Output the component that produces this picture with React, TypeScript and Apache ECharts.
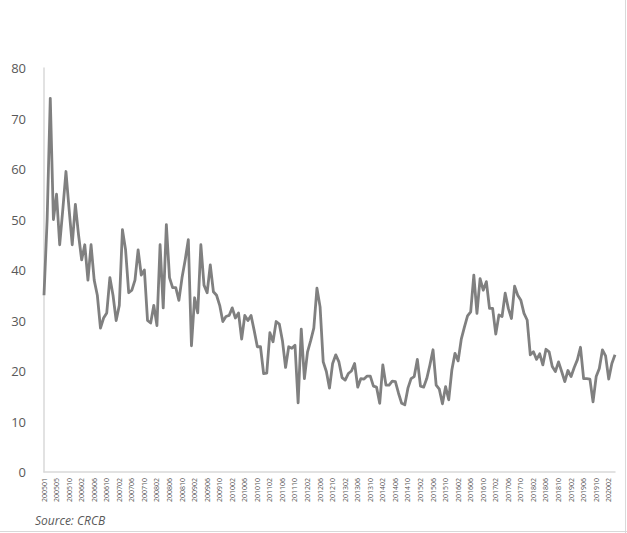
import React, { useEffect, useRef } from "react";
import * as echarts from "echarts";

// Monthly categories 200501..202004 (200508 absent in the source series)
const startYear = 2005;
const endYear = 2020;
const endMonth = 4;
const missingMonths = ["200508"];
const categories: string[] = [];
for (let y = startYear; y <= endYear; y++) {
  for (let m = 1; m <= 12; m++) {
    if (y === endYear && m > endMonth) break;
    const c = `${y}${m < 10 ? "0" + m : m}`;
    if (!missingMonths.includes(c)) categories.push(c);
  }
}

const values2005to2009: number[] = [
  35, 50, 74, 50, 55, 45, 52, 59.5, 52, 45, 53, 47, 42, 45, 38, 45, 38, 35, 28.5, 30.5,
  31.5, 38.5, 35, 30, 33, 48, 44, 35.5, 36, 38, 44, 39, 40, 30, 29.5, 33, 29, 45, 32.5, 49,
  38.5, 36.5, 36.5, 34, 38.5, 42, 46, 25, 34.5, 31.5, 45, 37, 35.5, 41, 35.7, 35, 33, 29.8, 30.8, 31,
];
const values2010to2014: number[] = [
  32.5, 30.5, 31.5, 26.3, 31, 30, 31, 28, 24.8, 24.8, 19.5, 19.6, 27.6, 25.8, 29.8, 29.3, 26, 20.7, 24.8, 24.5,
  25.1, 13.7, 28.3, 18.5, 23.8, 26, 28.5, 36.4, 32.7, 21.8, 19.9, 16.6, 21.5, 23.2, 21.8, 18.7, 18.2, 19.5, 20, 21.5,
  16.8, 18.5, 18.4, 19, 19, 17, 16.8, 13.6, 21.2, 17.2, 17.2, 18, 17.9, 15.6, 13.6, 13.3, 16.6, 18.5, 18.9, 22.3,
];
const values2015to2020: number[] = [
  17, 16.8, 18.5, 21.2, 24.2, 17.2, 16.4, 13.5, 16.9, 14.3, 20.2, 23.5, 22, 26.3, 28.7, 30.9, 31.7, 39, 31.4, 38.3,
  36, 37.7, 32.4, 32.4, 27.3, 31.1, 30.8, 35.4, 32.4, 30.4, 36.8, 35, 34, 31.4, 30.1, 23.2, 23.8, 22.3, 23.4, 21.2,
  24.3, 23.8, 20.9, 19.9, 21.8, 19.9, 17.9, 20.1, 18.9, 20.7, 22.2, 24.7, 18.5, 18.5, 18.4, 13.9, 18.9, 20.5, 24.2, 23,
  18.4, 21.5, 23.2,
];
const seriesValues: number[] = [...values2005to2009, ...values2010to2014, ...values2015to2020];

const yTicks = { min: 0, max: 80, interval: 10 };
const sourceText = "Source: CRCB";

export default function App() {
  const ref = useRef<HTMLDivElement>(null);
  useEffect(() => {
    document.body.style.margin = "0";
    if (!ref.current) return;
    const chart = echarts.init(ref.current, null, { renderer: "svg" });
    chart.setOption({
      animation: false,
      backgroundColor: "#ffffff",
      grid: { left: 44, right: 12, top: 68, bottom: 61, containLabel: false },
      xAxis: {
        type: "category",
        data: categories,
        boundaryGap: false,
        axisLine: { show: true, lineStyle: { color: "#D9D9D9", width: 1.5 } },
        axisTick: { show: false },
        axisLabel: {
          interval: 3,
          rotate: 90,
          fontSize: 7,
          color: "#595959",
          fontFamily: "Open Sans",
          margin: 6,
        },
        splitLine: { show: false },
      },
      yAxis: {
        type: "value",
        min: yTicks.min,
        max: yTicks.max,
        interval: yTicks.interval,
        axisLine: { show: true, lineStyle: { color: "#D9D9D9", width: 1.5 } },
        axisTick: { show: false },
        axisLabel: { fontSize: 13, color: "#595959", fontFamily: "Open Sans", margin: 18 },
        splitLine: { show: false },
      },
      series: [
        {
          type: "line",
          data: seriesValues,
          showSymbol: false,
          symbol: "none",
          lineStyle: { color: "#808080", width: 2.8, join: "round" },
        },
      ],
      graphic: [
        {
          type: "text",
          left: 35,
          top: 514,
          style: {
            text: sourceText,
            fontSize: 12,
            fontStyle: "italic",
            fill: "#595959",
            fontFamily: "Open Sans",
          },
        },
        {
          type: "line",
          shape: { x1: 625.5, y1: 0, x2: 625.5, y2: 533 },
          style: { stroke: "#D9D9D9", lineWidth: 1 },
          silent: true,
        },
        {
          type: "line",
          shape: { x1: 0, y1: 531.5, x2: 627, y2: 531.5 },
          style: { stroke: "#D9D9D9", lineWidth: 1 },
          silent: true,
        },
      ],
    });
    return () => chart.dispose();
  }, []);
  return <div ref={ref} style={{ width: 627, height: 533 }} />;
}
